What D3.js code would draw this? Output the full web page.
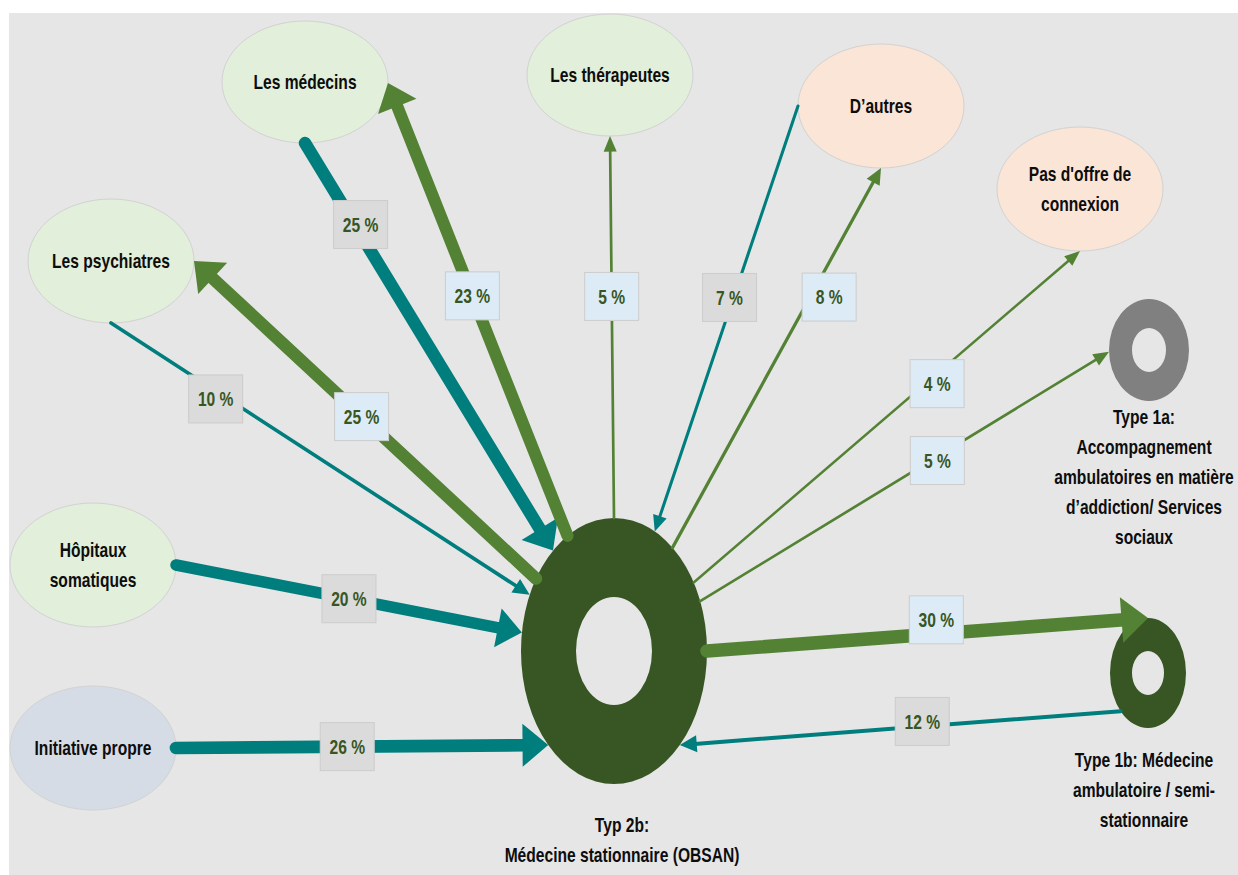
<!DOCTYPE html>
<html>
<head>
<meta charset="utf-8">
<script src="https://cdn.jsdelivr.net/npm/d3@7"></script>
<style>
  body { margin: 0; background: #fff; }
  text { font-family: "Liberation Sans", Arial, sans-serif; font-weight: bold; }
</style>
</head>
<body>
<svg id="chart" width="1238" height="875"></svg>
<script>
// nodes of the diagram
var nodeIds = ["med", "ther", "autres", "pas", "psy", "hop", "init", "obsan", "t1a", "t1b"];
var nodeLabels = [
  ["Les médecins"],
  ["Les thérapeutes"],
  ["D’autres"],
  ["Pas d'offre de", "connexion"],
  ["Les psychiatres"],
  ["Hôpitaux", "somatiques"],
  ["Initiative propre"],
  ["Typ 2b:", "Médecine stationnaire (OBSAN)"],
  ["Type 1a:", "Accompagnement", "ambulatoires en matière", "d’addiction/ Services", "sociaux"],
  ["Type 1b: Médecine", "ambulatoire / semi-", "stationnaire"]
];

// flows (share in %)
var flowFrom   = ["med", "obsan", "obsan", "psy", "hop", "init", "obsan", "autres", "obsan", "obsan", "obsan", "obsan", "t1b"];
var flowTo     = ["obsan", "med", "psy", "obsan", "obsan", "obsan", "ther", "obsan", "autres", "pas", "t1a", "t1b", "obsan"];
var flowValues = [25, 23, 25, 10, 20, 26, 5, 7, 8, 4, 5, 30, 12];

// layout of the picture
var layout = {
  med:    {x: 305,  y: 82,  rx: 83, ry: 61, fill: "#e2efda"},
  ther:   {x: 610,  y: 75,  rx: 83, ry: 61, fill: "#e2efda"},
  autres: {x: 881,  y: 106, rx: 83, ry: 62, fill: "#fbe5d6"},
  pas:    {x: 1080, y: 189, rx: 83, ry: 62, fill: "#fbe5d6"},
  psy:    {x: 111,  y: 261, rx: 83, ry: 62, fill: "#e2efda"},
  hop:    {x: 93,   y: 565, rx: 83, ry: 62, fill: "#e2efda"},
  init:   {x: 93,   y: 748, rx: 83, ry: 62, fill: "#d6dce5"},
  obsan:  {x: 614,  y: 651, rx: 93, ry: 133, hole: [38, 54], fill: "#375623", tx: 622, ty: 832},
  t1a:    {x: 1149, y: 350, rx: 40, ry: 51, hole: [17, 22], fill: "#808080", tx: 1144, ty: 424},
  t1b:    {x: 1148, y: 673, rx: 38, ry: 55, hole: [16, 22], fill: "#375623", tx: 1144, ty: 767}
};
// angle where each flow leaves its source / reaches its target (on the ellipse)
var flowAngles = [[90, -131], [-120, 1], [-147, 0], [90, -155], [0, -172], [0, 135], [-90, 90],
                  [180, -64], [-51, 90], [-31, 90], [-22, 178], [0, -90], [136, 45]];
// label box position along each flow, and small nudges
var flowLabelAt = [0.2, 0.53, 0.51, 0.25, 0.5, 0.46, 0.58, 0.45, 0.66, 0.63, 0.58, 0.52, 0.45];
var flowLabelNudge = [[6, 0], [0, 0], [0, 0], [0, 8], [0, 0], [0, 0], [0, 0], [-4, 0], [19, 0], [0, 10], [0, 4], [0, -14], [0, -5]];

var BG = "#e6e6e6";
var SQUEEZE = 0.78; // condensed look of the original font
var svg = d3.select("#chart");

svg.append("rect").attr("x", 9).attr("y", 13).attr("width", 1229).attr("height", 862).attr("fill", BG);

var width = d3.scaleLinear().domain([4, 12, 20, 30]).range([2.5, 4, 11.5, 13.5]);
// flows into the stationary hub are teal, flows out of it green
var color = d3.scaleOrdinal().domain(["in", "out"]).range(["#007d7d", "#548235"]);
var boxFill = d3.scaleOrdinal().domain(["in", "out"]).range(["#dbdbdb", "#ddebf7"]);

function pointOn(id, deg) {
  var n = layout[id], a = deg * Math.PI / 180;
  return [n.x + n.rx * Math.cos(a), n.y + n.ry * Math.sin(a)];
}

var nodes = nodeIds.map(function(id, i) {
  return Object.assign({id: id, lines: nodeLabels[i]}, layout[id]);
});

var flows = flowValues.map(function(v, i) {
  var p0 = pointOn(flowFrom[i], flowAngles[i][0]);
  var p1 = pointOn(flowTo[i], flowAngles[i][1]);
  var dir = flowTo[i] == "obsan" ? "in" : "out";
  return {value: v, p0: p0, p1: p1, dir: dir, at: flowLabelAt[i], nudge: flowLabelNudge[i]};
});

// bubbles
var bubbles = nodes.filter(function(n) { return !n.hole; });
svg.selectAll("ellipse.node").data(bubbles).enter().append("ellipse")
  .attr("class", "node")
  .attr("cx", function(d) { return d.x; })
  .attr("cy", function(d) { return d.y; })
  .attr("rx", function(d) { return d.rx; })
  .attr("ry", function(d) { return d.ry; })
  .attr("fill", function(d) { return d.fill; })
  .attr("stroke", "#d2d2d2")
  .attr("stroke-width", 1);

// donuts
function ellipsePath(cx, cy, rx, ry) {
  return "M" + (cx - rx) + "," + cy +
    "a" + rx + "," + ry + " 0 1,0 " + (2 * rx) + ",0" +
    "a" + rx + "," + ry + " 0 1,0 " + (-2 * rx) + ",0Z";
}
var donuts = nodes.filter(function(n) { return n.hole; });
svg.selectAll("path.donut").data(donuts).enter().append("path")
  .attr("class", "donut")
  .attr("fill-rule", "evenodd")
  .attr("fill", function(d) { return d.fill; })
  .attr("d", function(d) {
    return ellipsePath(d.x, d.y, d.rx, d.ry) + ellipsePath(d.x, d.y, d.hole[0], d.hole[1]);
  });

// flow lines + arrow heads
var g = svg.append("g");
flows.forEach(function(f) {
  var w = width(f.value);
  var dx = f.p1[0] - f.p0[0], dy = f.p1[1] - f.p0[1];
  var len = Math.sqrt(dx * dx + dy * dy);
  var ux = dx / len, uy = dy / len;
  var headLen = 13 + w, headHalf = 2.5 + 1.5 * w;
  var bx = f.p1[0] - ux * headLen, by = f.p1[1] - uy * headLen;
  g.append("line")
    .attr("x1", f.p0[0]).attr("y1", f.p0[1])
    .attr("x2", bx + ux * 2).attr("y2", by + uy * 2)
    .attr("stroke", color(f.dir))
    .attr("stroke-width", w)
    .attr("stroke-linecap", "round");
  g.append("path")
    .attr("fill", color(f.dir))
    .attr("d", "M" + f.p1[0] + "," + f.p1[1] +
      "L" + (bx - uy * headHalf) + "," + (by + ux * headHalf) +
      "L" + (bx + uy * headHalf) + "," + (by - ux * headHalf) + "Z");
});

// percentage boxes
var labels = svg.selectAll("g.lab").data(flows).enter().append("g")
  .attr("class", "lab")
  .attr("transform", function(f) {
    var x = f.p0[0] + (f.p1[0] - f.p0[0]) * f.at + f.nudge[0];
    var y = f.p0[1] + (f.p1[1] - f.p0[1]) * f.at + f.nudge[1];
    return "translate(" + x + "," + y + ")";
  });
labels.append("rect")
  .attr("x", -27).attr("y", -24).attr("width", 54).attr("height", 48)
  .attr("fill", function(f) { return boxFill(f.dir); })
  .attr("stroke", "#cccccc");
labels.append("text")
  .attr("text-anchor", "middle")
  .attr("transform", "scale(" + SQUEEZE + ",1)")
  .attr("dy", "0.36em")
  .attr("font-size", 20)
  .attr("fill", "#375623")
  .text(function(f) { return f.value + " %"; });

// node texts
var lineH = 31;
nodes.forEach(function(n) {
  var x, y0, step = n.hole ? 30 : lineH;
  if (n.hole) {
    x = n.tx; y0 = n.ty;
  } else {
    x = n.x; y0 = n.y + 7 - (n.lines.length - 1) * lineH / 2;
  }
  var t = svg.append("text")
    .attr("text-anchor", "middle")
    .attr("transform", "translate(" + x + "," + y0 + ") scale(" + SQUEEZE + ",1)")
    .attr("font-size", 20)
    .attr("fill", "#0d0d0d");
  n.lines.forEach(function(s, k) {
    t.append("tspan").attr("x", 0).attr("y", k * step).text(s);
  });
});
</script>
</body>
</html>
